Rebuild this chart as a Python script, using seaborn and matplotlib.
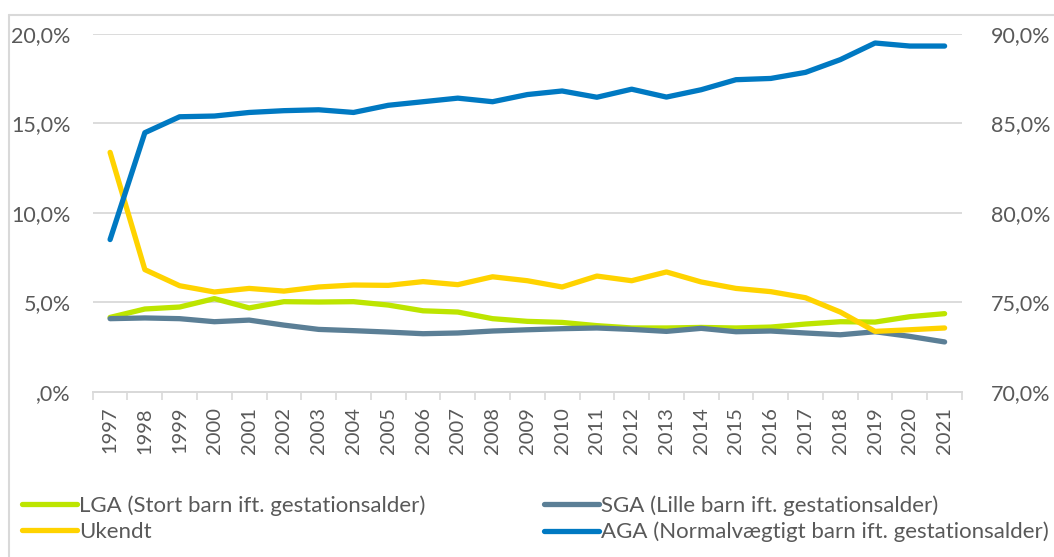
import numpy as np
import pandas as pd
import matplotlib
matplotlib.use("Agg")
import matplotlib.pyplot as plt
from matplotlib.ticker import FuncFormatter, FixedLocator
from matplotlib.lines import Line2D
import seaborn as sns

years = [str(y) for y in range(1997, 2022)]
lga = [4.15, 4.62, 4.73, 5.20, 4.68, 5.03, 5.01, 5.03, 4.84, 4.52, 4.45, 4.08, 3.93,
       3.87, 3.69, 3.56, 3.56, 3.59, 3.56, 3.61, 3.78, 3.91, 3.89, 4.19, 4.36]
sga = [4.08, 4.12, 4.08, 3.91, 4.00, 3.72, 3.48, 3.41, 3.33, 3.24, 3.28, 3.39, 3.46,
       3.52, 3.56, 3.48, 3.37, 3.54, 3.35, 3.39, 3.28, 3.18, 3.35, 3.09, 2.78]
ukendt = [13.37, 6.82, 5.92, 5.57, 5.77, 5.62, 5.85, 5.96, 5.94, 6.15, 5.98, 6.42, 6.20,
          5.85, 6.46, 6.20, 6.69, 6.13, 5.77, 5.59, 5.25, 4.45, 3.37, 3.46, 3.56]
aga = [78.5, 84.47, 85.36, 85.40, 85.60, 85.70, 85.75, 85.60, 86.00, 86.20, 86.40, 86.20, 86.60,
       86.80, 86.45, 86.90, 86.46, 86.87, 87.43, 87.50, 87.84, 88.55, 89.48, 89.31, 89.31]

labels = ["LGA (Stort barn ift. gestationsalder)", "SGA (Lille barn ift. gestationsalder)",
          "Ukendt", "AGA (Normalvægtigt barn ift. gestationsalder)"]
colors = {"LGA": "#BDE500", "SGA": "#5B7F96", "Ukendt": "#FFD300", "AGA": "#0079C2"}

sns.set_style("white")
plt.rcParams['font.family'] = ['Lato', 'DejaVu Sans']
txt = "#595959"
grid = "#D9D9D9"

df = pd.DataFrame({"pos": np.arange(len(years)), "LGA": lga, "SGA": sga,
                   "Ukendt": ukendt, "AGA": aga})

fig = plt.figure(figsize=(10.54, 5.57), dpi=100)
ax = fig.add_axes([92.7/1054, 1-391.7/557, (962-92.7)/1054, (391.7-33.7)/557])
ax2 = ax.twinx()

lw = 3.8
for key in ["LGA", "SGA", "Ukendt"]:
    sns.lineplot(data=df, x="pos", y=key, ax=ax, color=colors[key], linewidth=lw,
                 solid_capstyle="round", solid_joinstyle="round", zorder=3)
sns.lineplot(data=df, x="pos", y="AGA", ax=ax2, color=colors["AGA"], linewidth=lw,
             solid_capstyle="round", solid_joinstyle="round", zorder=3)

ax.set_xlim(-0.5, len(years) - 0.5)
ax.set_ylim(0, 20)
ax2.set_ylim(70, 90)
ax.set_yticks([0, 5, 10, 15, 20])
ax2.set_yticks([70, 75, 80, 85, 90])

def fmt(v, p):
    s = f"{v:.1f}".replace(".", ",")
    if s.startswith("0,"):
        s = s[1:]
    return s + "%"

ax.yaxis.set_major_formatter(FuncFormatter(fmt))
ax2.yaxis.set_major_formatter(FuncFormatter(fmt))

ax.set_xticks(np.arange(len(years)))
ax.set_xticklabels(years, rotation=90)
ax.xaxis.set_minor_locator(FixedLocator(np.arange(len(years) + 1) - 0.5))
ax.tick_params(axis="x", which="major", length=0, pad=11, labelsize=14.5, labelcolor=txt)
ax.tick_params(axis="x", which="minor", length=6, width=1.2, color=grid, bottom=True)
ax.tick_params(axis="y", length=0, pad=16, labelsize=15.5, labelcolor=txt)
ax2.tick_params(axis="y", length=0, pad=21, labelsize=15.5, labelcolor=txt)

ax.grid(axis="y", color=grid, linewidth=1.3)
ax.set_axisbelow(True)
for a in (ax, ax2):
    for s in ["top", "left", "right"]:
        a.spines[s].set_visible(False)
    a.spines["bottom"].set_color(grid)
    a.spines["bottom"].set_linewidth(1.3)
    a.set_xlabel("")
    a.set_ylabel("")

# chart frame lines (left and top)
fig.add_artist(Line2D([9/1054, 9/1054], [0, 1-15/557], color=grid, linewidth=1.5, transform=fig.transFigure))
fig.add_artist(Line2D([9/1054, 1], [1-15/557, 1-15/557], color=grid, linewidth=1.5, transform=fig.transFigure))

def mk(key):
    return Line2D([], [], color=colors[key], linewidth=lw, solid_capstyle="round")

fs_leg = 16
leg_kw = dict(frameon=False, fontsize=fs_leg, labelcolor=txt, handlelength=55/(fs_leg*100/72),
              handletextpad=0.1, labelspacing=0.28, borderpad=0, borderaxespad=0,
              loc="upper left")
l1 = fig.legend([mk("LGA"), mk("Ukendt")], [labels[0], labels[2]],
                bbox_to_anchor=(22/1054, 1-495/557), **leg_kw)
l2 = fig.legend([mk("SGA"), mk("AGA")], [labels[1], labels[3]],
                bbox_to_anchor=(544/1054, 1-495/557), **leg_kw)

fig.savefig("out.png", dpi=100)
